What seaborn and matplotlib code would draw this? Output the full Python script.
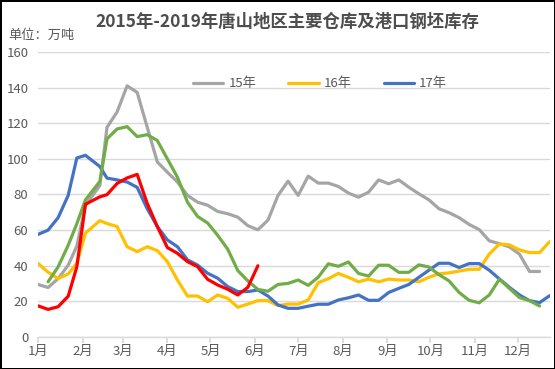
import matplotlib
matplotlib.use("Agg")
import matplotlib.pyplot as plt
import matplotlib.dates as mdates
from matplotlib.ticker import FuncFormatter
import numpy as np
import pandas as pd
import seaborn as sns

nan = np.nan

# observation dates, all shown on a common Jan-Dec axis
first_dates = ["2019-01-01", "2019-01-08", "2019-01-15", "2019-01-22", "2019-01-28",
               "2019-02-03", "2019-02-13", "2019-02-18", "2019-02-25", "2019-03-04", "2019-03-11"]
dates = pd.to_datetime(first_dates).append(pd.date_range("2019-03-18", periods=41, freq="7D"))

# stock, 10k tonnes
y15 = [29.5, 27.8, 32.8, 40.3, 51, 74, 85, 117.7, 126.3, 141, 137.3, 117.7, 98.3, 92.5, 87, 79.5,
       75.7, 74, 70.5, 69.2, 67.3, 62.5, 60.2, 65.6, 79.5, 87.5, 79.5, 90.3, 86.4, 86.4, 84.5, 80.8,
       78.5, 81.3, 88.2, 86, 88.2, 84.1, 80.4, 77, 72, 69.8, 67, 63.2, 60.3, 54, 52.4, 50.6, 46.5,
       36.8, 36.8]
y16 = [41.3, 36.4, 32.8, 35.4, 41.3, 58.3, 65.3, 63.7, 62, 50.7, 47.9, 50.7, 48.5, 42.3, 32, 23,
       23, 19.8, 23.6, 21.7, 16.7, 18.5, 20.4, 20.4, 17.6, 18.5, 18.5, 20.8, 30.5, 32.7, 35.7, 33.5,
       31, 32.5, 31, 32.5, 32, 32, 31, 33.5, 35.5, 36, 37, 38, 38, 46.6, 52.2, 51.7, 48.9, 47.4,
       47.4, 53.5]
y17 = [57.6, 60, 67, 79.5, 100.5, 102, 95.7, 89.2, 88.2, 87, 84, 72, 62, 54.5, 50.7, 43.3, 40.4,
       35.8, 33, 28.3, 25.5, 25.5, 26.4, 23, 18, 16.1, 16.1, 17.3, 18.4, 18.4, 20.8, 22, 23.6, 20.6,
       20.6, 25, 27.3, 29.5, 33.5, 37.5, 41.4, 41.4, 39, 41.2, 41.2, 37.5, 32.6, 27.9, 23.6, 20.4,
       19.3, 23.2]
y18 = [nan, 31, 39.4, 51.5, 63.6, 77, 87.3, 111.2, 116.8, 118.1, 112.5, 113.6, 110.3, 100, 89.7,
       75.7, 67.7, 64, 57.1, 49.3, 37.3, 31.5, 26.7, 25.7, 29.5, 30.1, 32, 29, 33.6, 41.1, 39.7,
       42.1, 35.7, 34.2, 40.3, 40.3, 36.3, 36.3, 40.5, 39.3, 35, 31.5, 25, 20.6, 19.2, 23.6, 32.4,
       27.3, 22.1, 20.4, 17.4]
y19 = [17.5, 15.5, 17, 22.9, 39.4, 74.5, 78.7, 79.9, 86.2, 89.3, 91.3, 75, 62, 50.2, 47, 42.3,
       39.5, 32.4, 29.2, 26.8, 23.6, 27.9, 40]

series = [("15年", y15, "#A5A5A5"), ("16年", y16, "#FFC000"), ("17年", y17, "#4472C4"),
          ("_18年", y18, "#70AD47"), ("_19年", y19, "#FF0000")]

sns.set_theme(style="white")
plt.rcParams["font.family"] = ["Noto Sans CJK SC", "DejaVu Sans"]
txt = "#595959"

fig = plt.figure(figsize=(5.55, 3.69), dpi=100)
fig.patch.set_edgecolor("#000000")
fig.patch.set_linewidth(2)
ax = fig.add_axes([0.0685, 0.0867, 0.9225, 0.7724])

for name, vals, color in series:
    sns.lineplot(x=dates[:len(vals)], y=vals, ax=ax, color=color, linewidth=2.3,
                 label=name)

ax.set_ylim(0, 160)
ax.set_yticks(range(0, 161, 20))
ax.set_xlim(pd.Timestamp("2019-01-01"), pd.Timestamp("2019-12-23 06:00"))
ax.xaxis.set_major_locator(mdates.MonthLocator())
ax.xaxis.set_major_formatter(FuncFormatter(lambda v, p: f"{mdates.num2date(v).month}月"))
ax.yaxis.grid(True, color="#D9D9D9", linewidth=1)
ax.set_axisbelow(True)
for s in ["top", "right", "left"]:
    ax.spines[s].set_visible(False)
ax.spines["bottom"].set_color("#D9D9D9")
ax.spines["bottom"].set_linewidth(1)
ax.tick_params(axis="x", length=4, color="#D9D9D9", labelcolor=txt, labelsize=9.5, pad=2,
               bottom=True)
ax.tick_params(axis="y", length=0, labelcolor=txt, labelsize=9.5, pad=7)
ax.set_xlabel("")
ax.set_ylabel("")

ax.legend(loc="center", bbox_to_anchor=(0.551, 0.888), ncol=3, frameon=False, fontsize=9.5,
          labelcolor=txt, handlelength=2.3, handletextpad=0.4, columnspacing=2.4)

fig.text(0.518, 0.941, "2015年-2019年唐山地区主要仓库及港口钢坯库存", ha="center", va="center",
         fontsize=12.5, fontweight="bold", color="#4d4d4d")
fig.text(0.0144, 0.905, "单位：万吨", ha="left", va="center", fontsize=9.5, color=txt)

fig.savefig("out.png", dpi=100)
